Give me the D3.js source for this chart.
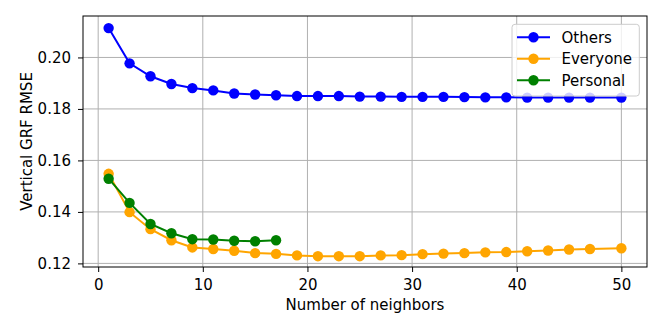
<!DOCTYPE html>
<html><head><meta charset="utf-8">
<script src="https://cdn.jsdelivr.net/npm/d3@7"></script>
<style>body{margin:0;background:#fff}svg{display:block}text{font-family:"DejaVu Sans",sans-serif;fill:#000}</style>
</head><body><svg id="c" width="664" height="332"></svg>
<script>
const othersX = [1,3,5,7,9,11,13,15,17,19,21,23,25,27,29,31,33,35,37,39,41,43,45,47,50];
const othersY = [0.2114,0.1977,0.1927,0.1897,0.1881,0.1872,0.1860,0.1856,0.1853,0.1850,0.1850,0.1850,0.1848,0.1848,0.1847,0.1847,0.1847,0.1846,0.1845,0.1845,0.1844,0.1844,0.1844,0.1844,0.1844];
const everyoneX = othersX;
const everyoneY = [0.1548,0.1399,0.1333,0.1290,0.1262,0.1256,0.1249,0.1240,0.1237,0.1231,0.1228,0.1228,0.1228,0.1231,0.1232,0.1236,0.1238,0.1240,0.1243,0.1244,0.1247,0.1250,0.1254,0.1256,0.1259];
const personalX = [1,3,5,7,9,11,13,15,17];
const personalY = [0.1529,0.1435,0.1353,0.1317,0.1294,0.1293,0.1288,0.1286,0.1290];
const xTicks = [0,10,20,30,40,50];
const yTicks = [0.12,0.14,0.16,0.18,0.20];
const seriesNames = ["Others","Everyone","Personal"];
const seriesColors = ["#0000ff","#ffa500","#008000"];

const L=83,R=647,T=16,B=267;
const FS="15px";
const svg=d3.select("#c");
const x=d3.scaleLinear().domain([-1.45,52.45]).range([L,R]);
const y=d3.scaleLinear().domain([0.1186,0.2161]).range([B,T]);

// grid
svg.append("g").selectAll("line").data(xTicks).join("line")
 .attr("x1",d=>x(d)).attr("x2",d=>x(d)).attr("y1",T).attr("y2",B)
 .attr("stroke","#b0b0b0").attr("stroke-width",1);
svg.append("g").selectAll("line").data(yTicks).join("line")
 .attr("y1",d=>y(d)).attr("y2",d=>y(d)).attr("x1",L).attr("x2",R)
 .attr("stroke","#b0b0b0").attr("stroke-width",1);

const series=[[othersX,othersY],[everyoneX,everyoneY],[personalX,personalY]];
const line=d3.line().x(d=>x(d[0])).y(d=>y(d[1]));
series.forEach((s,i)=>{
  const pts=s[0].map((v,j)=>[v,s[1][j]]);
  const g=svg.append("g");
  g.append("path").datum(pts).attr("d",line).attr("fill","none")
   .attr("stroke",seriesColors[i]).attr("stroke-width",2);
  g.selectAll("circle").data(pts).join("circle")
   .attr("cx",d=>x(d[0])).attr("cy",d=>y(d[1])).attr("r",5.2)
   .attr("fill",seriesColors[i]);
});

// axes
const xa=svg.append("g").attr("transform",`translate(0,${B})`)
 .call(d3.axisBottom(x).tickValues(xTicks).tickSize(5).tickPadding(7).tickFormat(d3.format("d")));
const ya=svg.append("g").attr("transform",`translate(${L},0)`)
 .call(d3.axisLeft(y).tickValues(yTicks).tickSize(5).tickPadding(7).tickFormat(d3.format(".2f")));
[xa,ya].forEach(a=>{a.select(".domain").remove();
 a.selectAll("text").style("font-size",FS).style("font-family","DejaVu Sans");
 a.selectAll("line").attr("stroke","#000").attr("stroke-width",1);});
svg.append("rect").attr("x",L).attr("y",T).attr("width",R-L).attr("height",B-T)
 .attr("fill","none").attr("stroke","#000").attr("stroke-width",1);

svg.append("text").attr("x",(L+R)/2).attr("y",309.5).attr("text-anchor","middle")
 .style("font-size",FS).text("Number of neighbors");
svg.append("text").attr("transform",`translate(32,${(T+B)/2}) rotate(-90)`).attr("text-anchor","middle")
 .style("font-size",FS).text("Vertical GRF RMSE");

// legend
const lg=svg.append("g");
lg.append("rect").attr("x",512).attr("y",24.3).attr("width",127.3).attr("height",71.7).attr("rx",3)
 .attr("fill","rgba(255,255,255,0.8)").attr("stroke","#cccccc").attr("stroke-width",1);
seriesNames.forEach((n,i)=>{
  const yy=37.3+i*21.5;
  lg.append("line").attr("x1",517).attr("x2",550).attr("y1",yy).attr("y2",yy)
   .attr("stroke",seriesColors[i]).attr("stroke-width",2);
  lg.append("circle").attr("cx",533.5).attr("cy",yy).attr("r",5.2).attr("fill",seriesColors[i]);
  lg.append("text").attr("x",561.5).attr("y",yy+5.4).style("font-size",FS).text(n);
});
</script></body></html>
